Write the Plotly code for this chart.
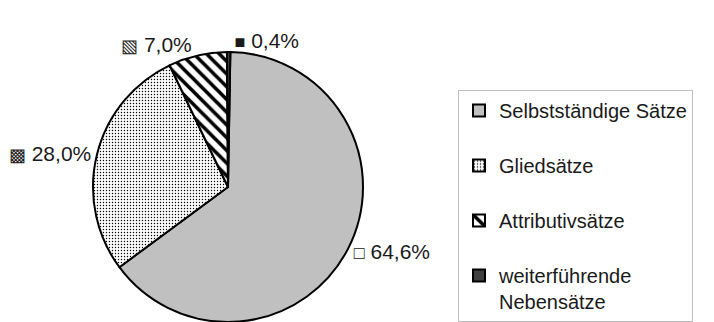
import plotly.graph_objects as go

categories = ["Selbstständige Sätze", "Gliedsätze", "Attributivsätze", "weiterführende<br>Nebensätze"]
values = [64.6, 28.0, 7.0, 0.4]
key_symbols = ["□", "▩", "▧", "■"]

legend_labels = [c if "<br>" in c else c + "<br> " for c in categories]

fig = go.Figure(go.Pie(
    labels=legend_labels,
    values=values,
    customdata=key_symbols,
    sort=False,
    direction="clockwise",
    rotation=1,
    textposition="outside",
    texttemplate="<span style='font-size:18px'>%{customdata}</span> %{percent:.1%}",
    textfont=dict(family="Liberation Sans, Arial", size=21, color="#1a1a1a"),
    marker=dict(
        colors=["#c0c0c0", "white", "white", "#404040"],
        line=dict(color="black", width=2),
        pattern=dict(
            shape=["", ".", "\\", ""],
            fgcolor=["black", "black", "black", "black"],
            bgcolor=["#c0c0c0", "white", "white", "#404040"],
            size=[8, 3, 9, 8],
            solidity=[0.3, 0.18, 0.4, 0.3],
        ),
    ),
    domain=dict(x=[93 / 714, 363 / 714], y=[0, 1]),
    hoverinfo="label+percent",
))

fig.update_layout(
    width=714,
    height=322,
    margin=dict(l=0, r=0, t=52, b=0, autoexpand=False),
    paper_bgcolor="white",
    plot_bgcolor="white",
    separators=",.",
    showlegend=True,
    legend=dict(
        x=458 / 714,
        y=1 - (90 - 52) / 270,
        xanchor="left",
        yanchor="top",
        valign="top",
        bordercolor="#bfbfbf",
        borderwidth=1,
        itemwidth=30,
        maxheight=600,
        font=dict(family="Liberation Sans, Arial", size=20, color="#1a1a1a"),
        bgcolor="white",
    ),
)

fig.write_html("out.html")
